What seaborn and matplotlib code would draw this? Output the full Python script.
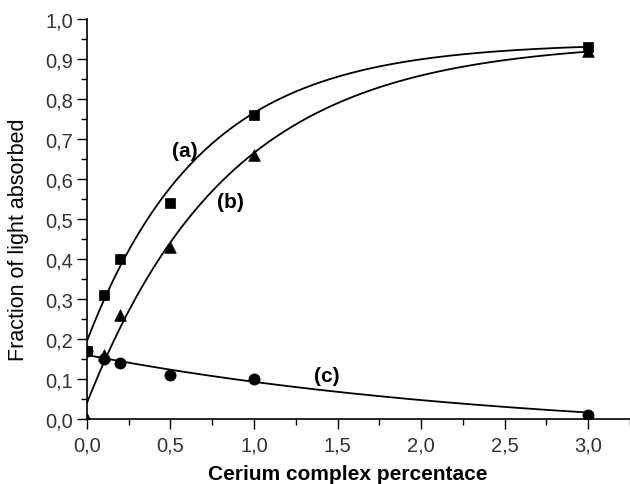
import numpy as np
import pandas as pd
import matplotlib
matplotlib.use("Agg")
import matplotlib.pyplot as plt
import seaborn as sns
from matplotlib.ticker import MultipleLocator, FuncFormatter

sns.set_theme(style="ticks")
plt.rcParams["font.family"] = ["Liberation Sans", "DejaVu Sans"]
plt.rcParams["text.color"] = "black"
plt.rcParams["axes.labelcolor"] = "black"

# measured points: fraction of light absorbed vs cerium complex percentage
conc = [0.0, 0.1, 0.2, 0.5, 1.0, 3.0]
series_a = [0.17, 0.31, 0.40, 0.54, 0.76, 0.93]
series_b = [0.00, 0.16, 0.26, 0.43, 0.66, 0.92]
series_c = [0.17, 0.15, 0.14, 0.11, 0.10, 0.01]

# exponential fits y = y0 + amp * exp(-k x)
fit_a = dict(y0=0.94, amp=-0.745, k=1.45)
fit_b = dict(y0=0.945, amp=-0.905, k=1.174)
fit_c = dict(y0=-0.05, amp=0.21, k=0.385)

x_ticks = [0.0, 0.5, 1.0, 1.5, 2.0, 2.5, 3.0]
y_ticks = [0.0, 0.1, 0.2, 0.3, 0.4, 0.5, 0.6, 0.7, 0.8, 0.9, 1.0]

points = pd.DataFrame({
    "x": conc * 3,
    "y": series_a + series_b + series_c,
    "series": ["(a)"] * 6 + ["(b)"] * 6 + ["(c)"] * 6,
})

xs = np.linspace(0.0, 3.0, 300)
curves = []
for name, p in [("(a)", fit_a), ("(b)", fit_b), ("(c)", fit_c)]:
    curves.append(pd.DataFrame({
        "x": xs,
        "y": p["y0"] + p["amp"] * np.exp(-p["k"] * xs),
        "series": name,
    }))
curves = pd.concat(curves, ignore_index=True)

fig = plt.figure(figsize=(6.3, 4.85), dpi=100)
ax = fig.add_axes([0.138, 0.134, 0.862, 0.825])

sns.lineplot(data=curves, x="x", y="y", units="series", estimator=None,
             color="black", lw=1.3, ax=ax, legend=False)

markers = {"(a)": "s", "(b)": "^", "(c)": "o"}
sizes = {"(a)": 55, "(b)": 70, "(c)": 65}
for name in ["(b)", "(c)", "(a)"]:
    sub = points[points["series"] == name]
    sns.scatterplot(data=sub, x="x", y="y", marker=markers[name],
                    s=sizes[name], color="black", edgecolor="black",
                    linewidth=0.5, ax=ax, legend=False, zorder=3)

label_font = dict(fontsize=15, fontweight="bold", ha="center", va="center",
                  color="black")
ax.text(0.586, 0.67, "(a)", **label_font)
ax.text(0.86, 0.5425, "(b)", **label_font)
ax.text(1.435, 0.1075, "(c)", **label_font)

ax.set_xlim(0, 3.25)
ax.set_ylim(0, 1.0)
ax.set_xticks(x_ticks)
ax.set_yticks(y_ticks)
ax.xaxis.set_minor_locator(MultipleLocator(0.25))
ax.yaxis.set_minor_locator(MultipleLocator(0.05))
comma = FuncFormatter(lambda v, pos: f"{v:.1f}".replace(".", ","))
ax.xaxis.set_major_formatter(comma)
ax.yaxis.set_major_formatter(comma)

ax.tick_params(which="major", direction="out", length=7, width=1.0,
               labelsize=14.5, colors="black", labelcolor="#333333")
ax.tick_params(which="minor", direction="out", length=4, width=1.0,
               colors="black")
ax.tick_params(axis="x", pad=5)
ax.tick_params(axis="y", pad=3)

sns.despine(ax=ax)
for side in ["left", "bottom"]:
    ax.spines[side].set_linewidth(1.2)
    ax.spines[side].set_color("black")

ax.set_xlabel("Cerium complex percentace", fontsize=15, fontweight="bold")
ax.set_ylabel("Fraction of light absorbed", fontsize=15.5)
ax.xaxis.set_label_coords(0.481, -0.113)
ax.yaxis.set_label_coords(-0.106, 0.45)

fig.savefig("out.png", dpi=100, facecolor="white")
